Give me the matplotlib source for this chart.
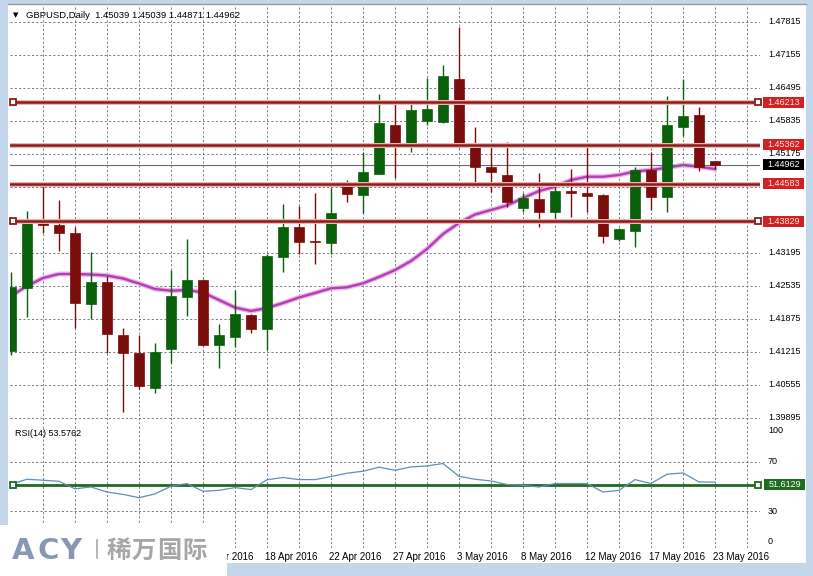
import matplotlib
matplotlib.use('Agg')
import matplotlib.pyplot as plt
from matplotlib.patches import Rectangle
from matplotlib.lines import Line2D
from matplotlib.transforms import blended_transform_factory as btf

plt.rcParams['font.family'] = ['Liberation Sans', 'DejaVu Sans']

# ---------------- data ----------------
opens = [1.41235, 1.42489, 1.43841, 1.43749, 1.43589, 1.42175, 1.42615, 1.41555, 1.41201, 1.40489,
         1.41275, 1.42321, 1.42655, 1.41355, 1.41521, 1.41955, 1.41669, 1.43109, 1.43709, 1.43431,
         1.43401, 1.44621, 1.44355, 1.44775, 1.45755, 1.45355, 1.45835, 1.45821, 1.46675, 1.45309,
         1.44909, 1.44755, 1.44101, 1.44275, 1.44021, 1.44435, 1.44389, 1.44355, 1.43469, 1.43641,
         1.44855, 1.44321, 1.45721, 1.45955, 1.45039]
highs = [1.42809, 1.44035, 1.44589, 1.44255, 1.43709, 1.43221, 1.42735, 1.41689, 1.41555, 1.41389,
         1.42855, 1.43469, 1.42675, 1.41775, 1.42455, 1.41975, 1.43175, 1.44175, 1.44135, 1.44401,
         1.44501, 1.44655, 1.45221, 1.46375, 1.46209, 1.46209, 1.46689, 1.46955, 1.47721, 1.45709,
         1.45321, 1.45421, 1.44389, 1.44789, 1.44589, 1.44875, 1.45321, 1.44375, 1.43689, 1.44921,
         1.45221, 1.46335, 1.46669, 1.46109, 1.45039]
lows = [1.41155, 1.41921, 1.43589, 1.43241, 1.41689, 1.41869, 1.41201, 1.40021, 1.40469, 1.40389,
        1.40989, 1.41941, 1.41335, 1.40889, 1.41321, 1.41601, 1.41255, 1.42821, 1.43175, 1.42969,
        1.43169, 1.44221, 1.43989, 1.44769, 1.44701, 1.45221, 1.45755, 1.45801, 1.45301, 1.44601,
        1.44421, 1.44121, 1.44021, 1.43721, 1.43855, 1.43921, 1.44021, 1.43389, 1.43435, 1.43309,
        1.44055, 1.44021, 1.45535, 1.44841, 1.44871]
closes = [1.42521, 1.43841, 1.43761, 1.43589, 1.42201, 1.42609, 1.41569, 1.41201, 1.40541, 1.41209,
          1.42335, 1.42655, 1.41355, 1.41555, 1.41975, 1.41669, 1.43135, 1.43721, 1.43421, 1.43411,
          1.44001, 1.44369, 1.44821, 1.45801, 1.45401, 1.46055, 1.46075, 1.46735, 1.45321, 1.44921,
          1.44821, 1.44221, 1.44289, 1.44021, 1.44435, 1.44389, 1.44341, 1.43541, 1.43669, 1.44855,
          1.44321, 1.45755, 1.45935, 1.44921, 1.44962]
ma = [1.42335, 1.42535, 1.42695, 1.42775, 1.42775, 1.42765, 1.42745, 1.42685, 1.42585, 1.42475,
      1.42441, 1.42455, 1.42405, 1.42255, 1.42105, 1.42035, 1.42095, 1.42195, 1.42305, 1.42395,
      1.42489, 1.42509, 1.42589, 1.42715, 1.42855, 1.43035, 1.43275, 1.43575, 1.43795, 1.43965,
      1.44055, 1.44145, 1.44295, 1.44435, 1.44521, 1.44655, 1.44721, 1.44721, 1.44755, 1.44825,
      1.44855, 1.44901, 1.44955, 1.44921, 1.44875]
rsi = [51.8, 55.9, 55.1, 54.2, 48.1, 49.6, 45.5, 43.6, 40.9, 44.0,
       50.2, 52.4, 46.1, 46.9, 49.1, 47.5, 55.5, 57.3, 55.6, 55.6,
       58.1, 60.8, 62.4, 65.7, 63.2, 65.9, 66.7, 68.7, 58.3, 55.9,
       54.5, 51.6, 51.0, 49.6, 52.4, 52.4, 52.4, 45.5, 46.9, 55.6,
       52.4, 60.0, 61.0, 53.7, 53.58]

price_ticks = [1.47815, 1.47155, 1.46495, 1.45835, 1.45175, 1.44515, 1.43855,
               1.43195, 1.42535, 1.41875, 1.41215, 1.40555, 1.39895]
price_tick_labels = ['1.47815', '1.47155', '1.46495', '1.45835', '1.45175', '1.44515', '1.43855',
                     '1.43195', '1.42535', '1.41875', '1.41215', '1.40555', '1.39895']
hlines = [1.46213, 1.45362, 1.44583, 1.43829]
hline_labels = ['1.46213', '1.45362', '1.44583', '1.43829']
hline_marked = [True, False, False, True]
bid = 1.44962
bid_label = '1.44962'
rsi_level = 51.6129
rsi_level_label = '51.6129'
rsi_ticks = [100, 70, 30, 0]
rsi_grid = [70, 30]
date_idx = [12, 16, 20, 24, 28, 32, 36, 40, 44]
date_labels = ['14 Apr 2016', '18 Apr 2016', '22 Apr 2016', '27 Apr 2016', '3 May 2016',
               '8 May 2016', '12 May 2016', '17 May 2016', '23 May 2016']
title = 'GBPUSD,Daily  1.45039 1.45039 1.44871 1.44962'
rsi_title = 'RSI(14) 53.5762'
logo_latin = ['A', 'C', 'Y']
logo_cjk = ['稀', '万', '国', '际']

# ---------------- layout helpers ----------------
W, H = 813, 576
def FX(px):
    return px / W
def FY(py):
    return 1 - py / H

fig = plt.figure(figsize=(W / 100, H / 100), dpi=100)
fig.patch.set_facecolor('#C4D6EA')
fig.patches.append(Rectangle((FX(8), FY(563)), FX(806) - FX(8), FY(4) - FY(563),
                             transform=fig.transFigure, facecolor='white',
                             edgecolor='none', zorder=-5))
fig.add_artist(Line2D([FX(8), FX(806)], [FY(4), FY(4)], transform=fig.transFigure,
                      color='#9A9A9A', lw=1, zorder=-4))

xmin, xmax = -0.0625, 46.8125
n = len(opens)
xs = list(range(n))

GRID = '#767C88'
DASH = (0, (2.2, 2.2))
RED = '#8C1C1C'
GREEN_C = '#0A600A'
RED_C = '#7B0C0C'
FS = 6.5

# ---------------- main panel ----------------
ax = fig.add_axes([FX(10), FY(424), FX(760) - FX(10), FY(6) - FY(424)])
ax.set_xlim(xmin, xmax)
ax.set_ylim(1.39775, 1.48135)
ax.axis('off')

for p in price_ticks:
    ax.axhline(p, color=GRID, lw=0.7, ls=DASH, zorder=1)
for k in range(2, 47, 2):
    ax.axvline(k, color=GRID, lw=0.7, ls=DASH, zorder=1)

# moving average
ax.plot(xs, ma, color='#EBB8EB', lw=3.6, zorder=2, solid_capstyle='round')
ax.plot(xs, ma, color='#B43CB4', lw=1.7, zorder=2.1)

# candles
body_w = 0.68
for i in range(n):
    o, h, l, c = opens[i], highs[i], lows[i], closes[i]
    col = GREEN_C if c >= o else RED_C
    ax.vlines(i, l, h, color=col, lw=1.0, zorder=3)
    bot = min(o, c)
    ht = max(abs(c - o), 0.0003)
    ax.bar(i, ht, bottom=bot, width=body_w, color=col, edgecolor=col, lw=0.5, zorder=3.2)

# bid line
ax.axhline(bid, color='#6A6A7C', lw=0.8, zorder=2.5)

# red horizontal lines
for lvl, mk in zip(hlines, hline_marked):
    ax.axhline(lvl, color='#F0B4B4', lw=3.6, zorder=3.5)
    ax.axhline(lvl, color=RED, lw=1.8, zorder=3.6)
    if mk:
        ax.plot([(13 - 11) / 16, (758 - 11) / 16], [lvl, lvl], 's', ms=3.8, mfc='white',
                mec=RED, mew=1.3, zorder=3.8, clip_on=False)

# right price labels
trans = btf(fig.transFigure, ax.transData)
px_h = (1.48135 - 1.39775) / 418.0
for p, lab in zip(price_ticks, price_tick_labels):
    ax.text(FX(768), p, lab, transform=trans, fontsize=FS, color='black',
            ha='left', va='center', clip_on=False, zorder=5)
for lvl, lab in zip(hlines, hline_labels):
    ax.add_patch(Rectangle((FX(763), lvl - 5.5 * px_h), FX(804) - FX(763), 11 * px_h,
                           transform=trans, facecolor='#D02222', edgecolor='none',
                           clip_on=False, zorder=6))
    ax.text(FX(783.5), lvl, lab, transform=trans, fontsize=FS, color='#FFE4E4',
            ha='center', va='center', clip_on=False, zorder=7)
ax.add_patch(Rectangle((FX(763), bid - 5.5 * px_h), FX(804) - FX(763), 11 * px_h,
                       transform=trans, facecolor='black', edgecolor='none',
                       clip_on=False, zorder=6))
ax.text(FX(783.5), bid, bid_label, transform=trans, fontsize=FS, color='white',
        ha='center', va='center', clip_on=False, zorder=7)

fig.text(FX(13), FY(15.5), '\u25BC', fontsize=5, color='black', ha='left', va='center',
         family=['DejaVu Sans'])
fig.text(FX(26), FY(15), title, fontsize=6.8, color='black', ha='left', va='center')

# ---------------- RSI panel ----------------
rax = fig.add_axes([FX(10), FY(548), FX(760) - FX(10), FY(425) - FY(548)])
rax.set_xlim(xmin, xmax)
rax.set_ylim(0, 100)
rax.axis('off')
for g in rsi_grid:
    rax.axhline(g, color=GRID, lw=0.7, ls=DASH, zorder=1)
for k in range(2, 47, 2):
    rax.axvline(k, color=GRID, lw=0.7, ls=DASH, zorder=1)
rax.axhline(rsi_level, color='#1F6A1F', lw=2.0, zorder=2)
rax.plot([(13 - 11) / 16, (758 - 11) / 16], [rsi_level, rsi_level], 's', ms=3.8, mfc='white',
         mec='#1F6A1F', mew=1.3, zorder=4, clip_on=False)
rax.plot(xs, rsi, color='#5E90B8', lw=0.9, zorder=3)

rtrans = btf(fig.transFigure, rax.transData)
rsi_label_pos = [95.5, 70, 30, 5]
for v, pos in zip(rsi_ticks, rsi_label_pos):
    rax.text(FX(768), pos, str(v), transform=rtrans, fontsize=FS, color='black',
             ha='left', va='center', clip_on=False)
rpx = 100 / 123.0
rax.add_patch(Rectangle((FX(764), rsi_level - 5.5 * rpx), FX(805) - FX(764), 11 * rpx,
                        transform=rtrans, facecolor='#1E6E1E', edgecolor='none',
                        clip_on=False, zorder=6))
rax.text(FX(784.5), rsi_level, rsi_level_label, transform=rtrans, fontsize=FS, color='white',
         ha='center', va='center', clip_on=False, zorder=7)
fig.text(FX(15), FY(433), rsi_title, fontsize=FS, color='black', ha='left', va='center')

# date labels
dtrans = btf(rax.transData, fig.transFigure)
for k, lab in zip(date_idx, date_labels):
    rax.text(k - 2 / 16, FY(557), lab, transform=dtrans, fontsize=FS + 0.5, color='black',
             ha='left', va='center', clip_on=False)

# ---------------- logo ----------------
fig.patches.append(Rectangle((0, 0), FX(227), FY(525), transform=fig.transFigure,
                             facecolor='white', edgecolor='none', zorder=10))
for ch, px in zip(logo_latin, [12, 37.5, 60.5]):
    fig.text(FX(px), FY(559), ch, fontsize=21, fontweight='heavy', color='#8898B4',
             family=['DejaVu Sans'], ha='left', va='baseline', zorder=11)
fig.add_artist(Line2D([FX(97), FX(97)], [FY(540), FY(558)], transform=fig.transFigure,
                      color='#A8A8A8', lw=1.2, zorder=11))
for ch, px in zip(logo_cjk, [107, 132, 157, 182]):
    fig.text(FX(px), FY(558), ch, fontsize=17.5, fontweight='bold', color='#A6A6A6',
             family=['Noto Sans CJK SC'], ha='left', va='baseline', zorder=11)

fig.savefig('out.png', dpi=100, facecolor=fig.get_facecolor())
